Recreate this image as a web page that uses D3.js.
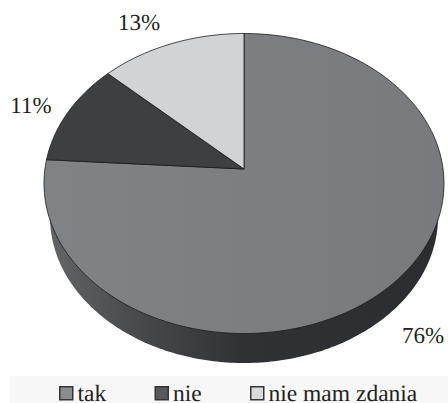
<!DOCTYPE html>
<html>
<head>
<meta charset="utf-8">
<script src="https://cdn.jsdelivr.net/npm/d3@7"></script>
<style>
  html, body { margin: 0; padding: 0; background: #fff; }
  svg { display: block; }
  text { font-family: "Liberation Serif", "Times New Roman", serif; fill: #231f20; text-rendering: geometricPrecision; }
</style>
</head>
<body>
<div id="chart"></div>
<script>
const categories = ['tak', 'nie', 'nie mam zdania']
const values = [76, 11, 13]
const swatchColors = ['#8b8c8e', '#58595b', '#d9dadc']
const sliceFills = ['url(#top-grad)', '#3d3f41', '#d2d3d5']

const width = 448, height = 403
const svg = d3.select('#chart').append('svg').attr('width', width).attr('height', height)

// top face is a tilted disc, the apex sits above the ellipse centre
const xTop = d3.scaleLinear().domain([-1, 1]).range([44, 444])
const yTop = d3.scaleLinear().domain([-1, 1]).range([333.5, 33.5])
const xBottom = d3.scaleLinear().domain([-1, 1]).range([50, 438])
const yBottom = d3.scaleLinear().domain([-1, 1]).range([363, 71])
const tilt = yTop.invert(169)

function project(a, r = 1) {
  const u = r * Math.sin(a), v = r * Math.cos(a)
  const d = 1 + tilt * v
  return [xTop(Math.sqrt(1 - tilt * tilt) * u / d), yTop((v + tilt) / d)]
}

const defs = svg.append('defs')
const topGrad = defs.append('linearGradient').attr('id', 'top-grad')
topGrad.append('stop').attr('offset', '0%').attr('stop-color', '#808386')
topGrad.append('stop').attr('offset', '55%').attr('stop-color', '#7c7e81')
topGrad.append('stop').attr('offset', '100%').attr('stop-color', '#797a7e')
const wallGrad = defs.append('linearGradient').attr('id', 'wall-grad')
wallGrad.append('stop').attr('offset', '0%').attr('stop-color', '#626466')
wallGrad.append('stop').attr('offset', '20%').attr('stop-color', '#4a4c4e')
wallGrad.append('stop').attr('offset', '50%').attr('stop-color', '#2f3134')
wallGrad.append('stop').attr('offset', '100%').attr('stop-color', '#2b2d30')

const line = d3.line()
const circleAngles = d3.range(0, 2 * Math.PI, Math.PI / 180)

// wall
svg.append('path')
  .attr('d', line(circleAngles.map(a => [xBottom(Math.sin(a)), yBottom(Math.cos(a))])) + 'Z')
  .attr('fill', 'url(#wall-grad)')

// top face
const pie = d3.pie().sort(null)
const arcs = pie(values)
svg.append('g').selectAll('path')
  .data(arcs)
  .enter()
  .append('path')
  .attr('d', d => {
    const steps = d3.range(d.startAngle, d.endAngle, Math.PI / 180).concat(d.endAngle)
    return line([project(0, 0), ...steps.map(a => project(a))]) + 'Z'
  })
  .attr('fill', (d, i) => sliceFills[i])
  .attr('stroke', '#1c1c1e')
  .attr('stroke-width', 0.8)
  .attr('stroke-linejoin', 'round')

// data labels
const labelAnchors = [[423, 343], [31, 113], [139, 30]]
svg.append('g').selectAll('text')
  .data(values)
  .enter()
  .append('text')
  .attr('x', (d, i) => labelAnchors[i][0])
  .attr('y', (d, i) => labelAnchors[i][1])
  .attr('text-anchor', 'middle')
  .style('font-size', '23px')
  .text(d => d + '%')

// legend
svg.append('rect')
  .attr('x', 10).attr('y', 376)
  .attr('width', width - 10).attr('height', height - 376)
  .attr('fill', '#f7f7f7')

const legendX = d3.scalePoint().domain(categories).range([59, 250])
const legend = svg.append('g').selectAll('g')
  .data(categories)
  .enter()
  .append('g')
  .attr('transform', d => `translate(${legendX(d)}, 386)`)
legend.append('rect')
  .attr('x', 0.75).attr('y', 0.75)
  .attr('width', 13).attr('height', 13)
  .attr('fill', (d, i) => swatchColors[i])
  .attr('stroke', '#333537')
  .attr('stroke-width', 1.5)
legend.append('text')
  .attr('x', 18.5)
  .attr('y', 15)
  .style('font-size', '23.5px')
  .text(d => d)
</script>
</body>
</html>
